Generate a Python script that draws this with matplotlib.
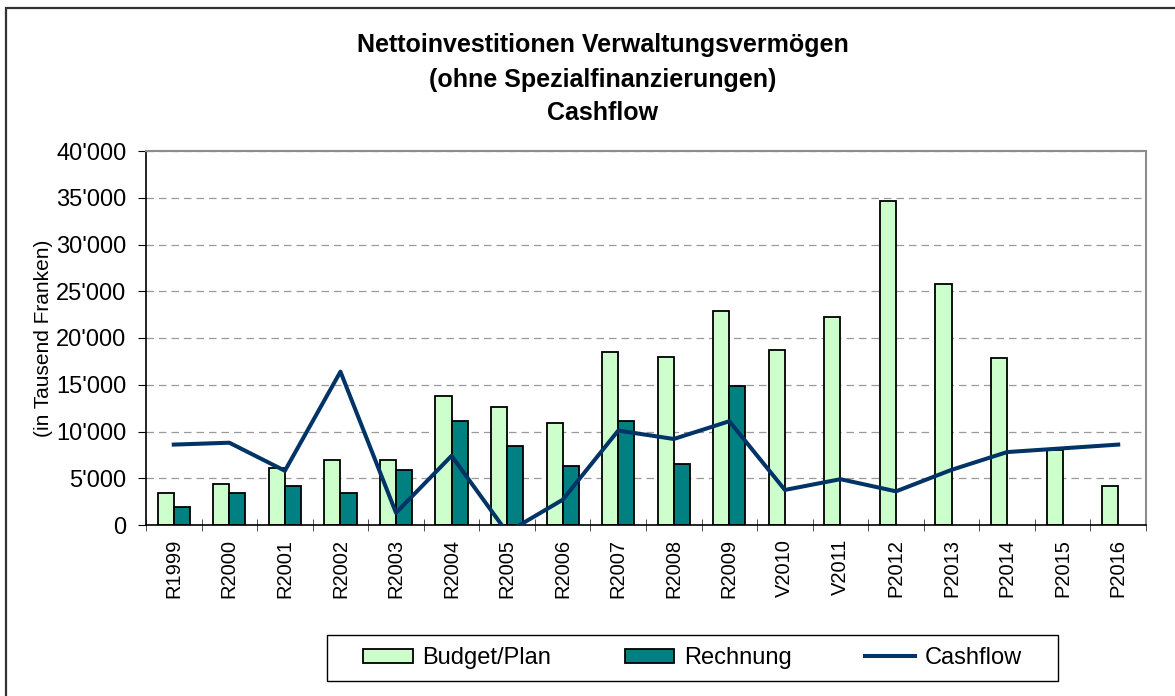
import matplotlib
matplotlib.use('Agg')
import matplotlib.pyplot as plt
from matplotlib.ticker import FuncFormatter, MultipleLocator
from matplotlib.patches import Rectangle
import numpy as np

plt.rcParams['font.family'] = ['Liberation Sans', 'DejaVu Sans']

# Daten (in Tausend Franken)
jahre = ["R1999", "R2000", "R2001", "R2002", "R2003", "R2004", "R2005", "R2006",
         "R2007", "R2008", "R2009", "V2010", "V2011", "P2012", "P2013", "P2014",
         "P2015", "P2016"]
budget_plan = [3400, 4400, 6100, 6900, 6900, 13800, 12600, 10900, 18500, 18000,
               22900, 18700, 22200, 34600, 25800, 17900, 8000, 4200]
rechnung = [1900, 3400, 4200, 3400, 5900, 11100, 8400, 6300, 11100, 6500, 14900,
            np.nan, np.nan, np.nan, np.nan, np.nan, np.nan, np.nan]
cashflow = [8600, 8800, 5800, 16400, 1300, 7400, -800, 2700, 10100, 9200, 11100,
            3750, 4900, 3600, 5900, 7800, 8200, 8600]

W, H = 1175, 696
fig = plt.figure(figsize=(W / 100, H / 100), dpi=100)
ax = fig.add_axes([146 / W, 1 - 525 / H, 1000 / W, 374 / H])

x = np.arange(len(jahre))
bw = 0.29
b1 = ax.bar(x - bw, budget_plan, width=bw, align='edge', color='#ccffcc',
            edgecolor='black', linewidth=1.3, label='Budget/Plan', zorder=2)
b2 = ax.bar(x, rechnung, width=bw, align='edge', color='#008080',
            edgecolor='black', linewidth=1.3, label='Rechnung', zorder=2)
l1, = ax.plot(x, cashflow, color='#003366', linewidth=2.9, label='Cashflow', zorder=3)

ax.set_xlim(-0.5, len(jahre) - 0.5)
ax.set_ylim(0, 40000)
ax.yaxis.set_major_locator(MultipleLocator(5000))
ax.yaxis.set_major_formatter(FuncFormatter(lambda v, p: f"{v:,.0f}".replace(",", "'")))
ax.grid(axis='y', linestyle=(0, (6, 4)), color='#9a9a9a', linewidth=0.9, zorder=0)

ax.set_xticks(x)
ax.set_xticklabels(jahre, rotation=90, fontsize=14.5)
ax.set_xticks(np.arange(-0.5, len(jahre)), minor=True)
ax.tick_params(axis='x', which='major', length=0, pad=10)
ax.tick_params(axis='x', which='minor', direction='inout', length=8, color='#333333')
ax.tick_params(axis='y', direction='out', length=6, labelsize=17, pad=8)

for s in ['top', 'right']:
    ax.spines[s].set_color('#8c8c8c')
    ax.spines[s].set_linewidth(1.5)
for s in ['left', 'bottom']:
    ax.spines[s].set_color('black')
    ax.spines[s].set_linewidth(1.2)

fig.text(44 / W, 1 - 338 / H, "(in Tausend Franken)", rotation=90,
         ha='center', va='center', fontsize=15)

fig.text(603 / W, 1 - 45 / H, "Nettoinvestitionen Verwaltungsvermögen",
         ha='center', va='center', fontsize=18, fontweight='bold')
fig.text(603 / W, 1 - 80 / H, "(ohne Spezialfinanzierungen)",
         ha='center', va='center', fontsize=18, fontweight='bold')
fig.text(603 / W, 1 - 113 / H, "Cashflow",
         ha='center', va='center', fontsize=18, fontweight='bold')

# Legende ohne eigenen Rahmen, Rahmen separat
fig.legend([b1, b2, l1], ['Budget/Plan', 'Rechnung', 'Cashflow'],
           loc='center left', ncol=3, bbox_to_anchor=(363 / W, 1 - 658 / H),
           borderaxespad=0, borderpad=0, fontsize=17, handlelength=2.1,
           handleheight=0.55, handletextpad=0.42, columnspacing=3.1,
           frameon=False)
fig.patches.append(Rectangle((327 / W, 1 - 681 / H), 731 / W, 46 / H,
                             transform=fig.transFigure, fill=False,
                             edgecolor='black', linewidth=1.0))

# Rahmen um das Diagramm (rechts/unten abgeschnitten)
fig.patches.append(Rectangle((5.5 / W, -0.1), 1.2, 1.1 - 8 / H,
                             transform=fig.transFigure, fill=False,
                             edgecolor='#333333', linewidth=1.6))

plt.savefig("out.png", dpi=100)
plt.close()
